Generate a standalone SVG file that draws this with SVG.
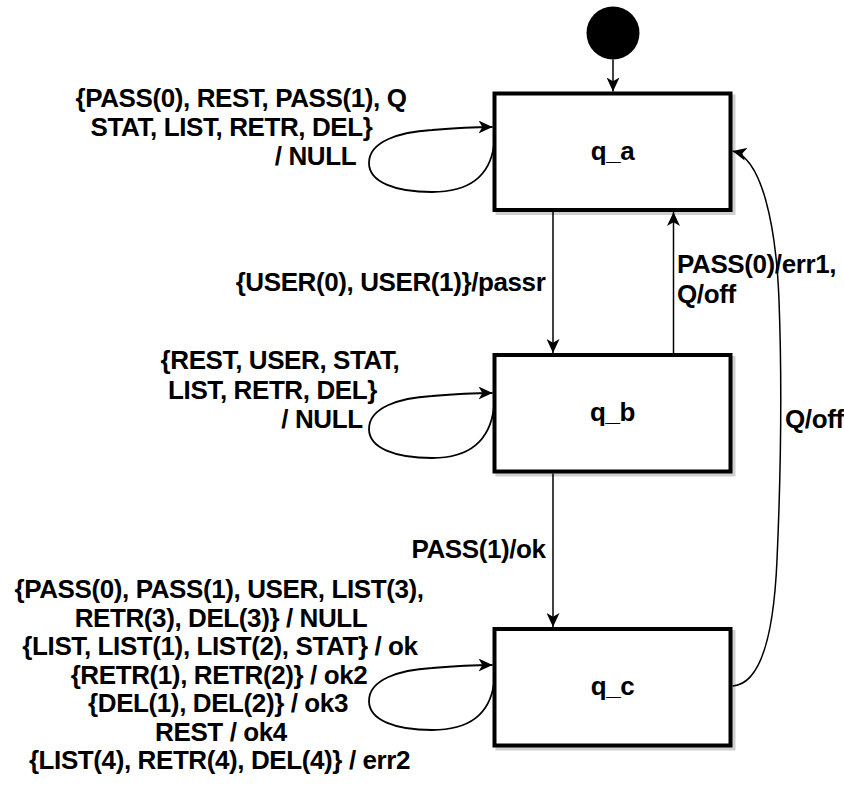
<svg xmlns="http://www.w3.org/2000/svg" width="844" height="785" viewBox="0 0 844 785">
  <defs>
    <marker id="arrow" markerUnits="userSpaceOnUse" markerWidth="15" markerHeight="13" refX="14" refY="6.5" orient="auto">
      <path d="M14,6.5 L0,0 L3.8,6.5 L0,13 Z" fill="#000"/>
    </marker>
    <style>
      .state { fill: #fff; stroke: #000; stroke-width: 4; }
      .shadow { fill: #cfcfcf; stroke: #cfcfcf; stroke-width: 4; }
      .edge { fill: none; stroke: #000; stroke-width: 1.5; marker-end: url(#arrow); }
      .loop { fill: none; stroke: #000; stroke-width: 1.8; marker-end: url(#arrow); }
      text { font-family: "Liberation Sans", Arial, Helvetica, sans-serif; font-weight: bold; font-size: 26px; letter-spacing: -0.4px; fill: #000; }
      .mid { text-anchor: middle; }
    </style>
  </defs>

  <rect width="844" height="785" fill="#fff"/>

  <!-- initial pseudo-state -->
  <g id="start">
    <circle cx="613" cy="33" r="26.5" fill="#000"/>
  </g>

  <!-- states -->
  <g id="q_a">
    <rect class="shadow" x="497.5" y="96.5" width="236" height="116.5"/>
    <rect class="state" x="494.5" y="93.5" width="236" height="116.5"/>
    <text class="mid" x="612.5" y="160">q_a</text>
  </g>
  <g id="q_b">
    <rect class="shadow" x="497.5" y="358" width="236" height="116.5"/>
    <rect class="state" x="494.5" y="355" width="236" height="116.5"/>
    <text class="mid" x="612.5" y="421">q_b</text>
  </g>
  <g id="q_c">
    <rect class="shadow" x="497.5" y="632" width="236" height="116.5"/>
    <rect class="state" x="494.5" y="629" width="236" height="116.5"/>
    <text class="mid" x="612.5" y="695">q_c</text>
  </g>

  <!-- transitions -->
  <g id="connectors">
    <path class="edge" d="M613,59.5 L613,91.5"/>
    <path class="edge" d="M553,212 L553,353"/>
    <path class="edge" d="M673.5,353 L673.5,212"/>
    <path class="edge" d="M553,473.5 L553,627"/>
    <path class="edge" d="M732.5,686 C762,684 774,630 777,560 C781,470 782,380 779,300 C776,225 762,158 732.5,151"/>
    <!-- self loops: same shape, shifted to each state -->
    <path class="loop" transform="translate(0,127)" d="M494,18 C490,48 470,65 432,65 C395,65 369,55 369,36 C369,14 400,5 432,3 C455,1 478,0 492.5,0"/>
    <path class="loop" transform="translate(0,393)" d="M494,14 C490,48 470,65 432,65 C395,65 369,55 369,36 C369,14 400,5 432,3 C455,1 478,0 492.5,0"/>
    <path class="loop" transform="translate(0,665)" d="M494,18 C490,48 470,65 432,65 C395,65 369,55 369,36 C369,14 400,5 432,3 C455,1 478,0 492.5,0"/>
  </g>

  <!-- transition labels -->
  <g id="edge-labels">
    <text class="mid" x="241" y="107">{PASS(0), REST, PASS(1), Q</text>
    <text class="mid" x="231.5" y="136">STAT, LIST, RETR, DEL}</text>
    <text class="mid" x="315.5" y="165">/ NULL</text>

    <text class="mid" x="390.5" y="291">{USER(0), USER(1)}/passr</text>

    <text x="677" y="273">PASS(0)/err1,</text>
    <text x="677" y="303">Q/off</text>

    <text class="mid" x="280" y="369">{REST, USER, STAT,</text>
    <text class="mid" x="272.5" y="399">LIST, RETR, DEL}</text>
    <text class="mid" x="322" y="428">/ NULL</text>

    <text x="785" y="428">Q/off</text>

    <text class="mid" x="478.5" y="558">PASS(1)/ok</text>

    <text class="mid" x="219" y="598">{PASS(0), PASS(1), USER, LIST(3),</text>
    <text class="mid" x="221" y="626.5">RETR(3), DEL(3)} / NULL</text>
    <text class="mid" x="220" y="655">{LIST, LIST(1), LIST(2), STAT} / ok</text>
    <text class="mid" x="219" y="683.5">{RETR(1), RETR(2)} / ok2</text>
    <text class="mid" x="218" y="712">{DEL(1), DEL(2)} / ok3</text>
    <text class="mid" x="221" y="740.5">REST / ok4</text>
    <text class="mid" x="219.5" y="769">{LIST(4), RETR(4), DEL(4)} / err2</text>
  </g>
</svg>
